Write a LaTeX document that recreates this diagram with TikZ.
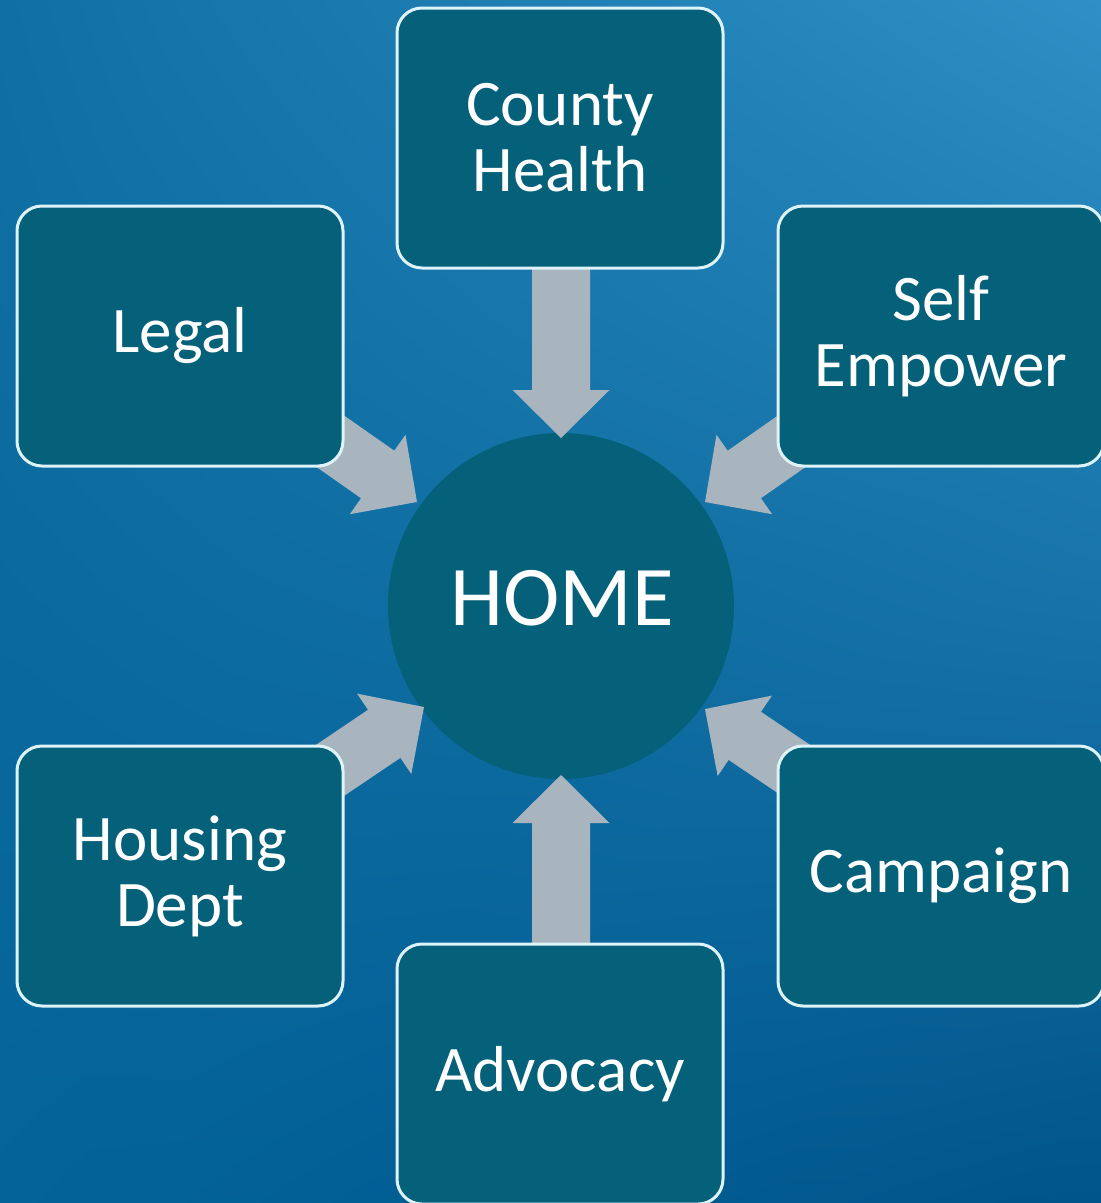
\documentclass[tikz,border=0pt]{standalone}
\usepackage{fontspec}
\setmainfont{Carlito}
\usetikzlibrary{calc,shadings}
\definecolor{bgUL}{HTML}{1170A3}
\definecolor{bgUR}{HTML}{2E90C6}
\definecolor{bgLL}{HTML}{03649A}
\definecolor{bgLR}{HTML}{00558A}
\definecolor{boxfill}{HTML}{05607A}
\definecolor{boxline}{HTML}{DDF3F7}
\definecolor{arrowfill}{HTML}{A9B5BE}
\newcommand\blockarrow[3]{%
  \fill[arrowfill, shift={(#1)}, rotate=#2]
    (0,0) -- (-48,48.5) -- (-48,29) -- (-#3,29) -- (-#3,-29) -- (-48,-29) -- (-48,-48.5) -- cycle;}
\begin{document}
\begin{tikzpicture}[x=1pt,y=-1pt,
  sbox/.style={draw=boxline, line width=3pt, fill=boxfill, rounded corners=25pt,
    minimum width=326pt, minimum height=260pt, text=white, align=center,
    font=\fontsize{65}{66}\selectfont, inner sep=0pt},
  homecirc/.style={circle, fill=boxfill, minimum size=346pt, inner sep=0pt},
  hometext/.style={text=white, font=\fontsize{85}{86}\selectfont, inner sep=0pt}]
\useasboundingbox (0,0) rectangle (1101,1203);
\clip (0,0) rectangle (1101,1203);
\shade[upper left=bgUL, upper right=bgUR, lower left=bgLL, lower right=bgLR] (0,0) rectangle (1101,1203);
\node[homecirc] (home) at (561,606) {};
\node[hometext] (homelabel) at (562,598) {HOME};
\coordinate (tCH) at (561,438);
\coordinate (tLE) at (417,502);
\coordinate (tSE) at (705,502);
\coordinate (tHD) at (424,707);
\coordinate (tCA) at (705,709);
\coordinate (tAD) at (561,775);
\blockarrow{tCH}{-90}{200}
\blockarrow{tLE}{-35}{130}
\blockarrow{tSE}{-145}{130}
\blockarrow{tHD}{34}{130}
\blockarrow{tCA}{146}{130}
\blockarrow{tAD}{90}{200}
\node[sbox] (ch) at (560,138) {County\\Health};
\node[sbox] (le) at (180,336) {Legal};
\node[sbox] (se) at (941,336) {Self\\Empower};
\node[sbox] (hd) at (180,876) {Housing\\Dept};
\node[sbox] (ca) at (941,876) {Campaign};
\node[sbox] (ad) at (560,1074) {Advocacy};
\end{tikzpicture}
\end{document}
